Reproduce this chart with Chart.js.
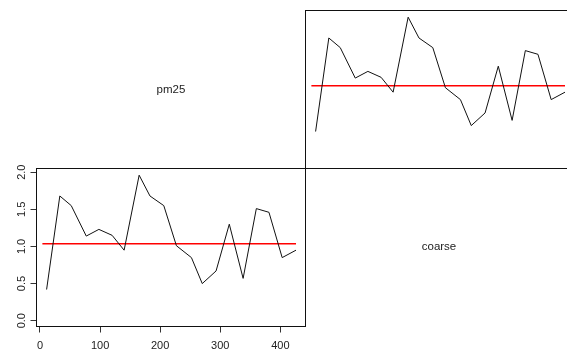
<!DOCTYPE html>
<html>
<head>
<meta charset="utf-8">
<script src="https://cdn.jsdelivr.net/npm/chart.js@4"></script>
<style>
  html, body { margin: 0; padding: 0; background: #fff; width: 567px; height: 353px; overflow: hidden; }
  canvas { position: absolute; left: 0; top: 0; }
</style>
</head>
<body>
<canvas id="lower" width="567" height="353"></canvas>
<canvas id="upper" width="600" height="353"></canvas>
<script>
// Sampling positions and pm25 readings
const dayIndex = [11, 33, 52, 77, 98, 120, 140, 165, 183, 206, 227, 252, 270, 293, 315, 338, 360, 381, 403, 426];
const pm25     = [0.42, 1.68, 1.55, 1.14, 1.23, 1.15, 0.95, 1.96, 1.68, 1.55, 1.01, 0.85, 0.50, 0.67, 1.30, 0.57, 1.51, 1.46, 0.85, 0.95];

// Horizontal reference level and its extent
const refSpan  = [4, 426];
const refLevel = 1.035;

// Axis ticks
const xTicks = [0, 100, 200, 300, 400];
const yTicks = [0, 0.5, 1.0, 1.5, 2.0];

// Variable names shown in the diagonal cells
const panelNames = ['pm25', 'coarse'];

const FONT = '"Liberation Sans", Arial, sans-serif';
const REF_COLOR = 'rgb(255, 0, 0)';

// Frame around each plotting region
const boxPlugin = {
  id: 'panelBox',
  afterDraw(chart) {
    const { ctx, chartArea: a } = chart;
    ctx.save();
    ctx.strokeStyle = '#111';
    ctx.lineWidth = 1;
    ctx.strokeRect(a.left, a.top, a.right - a.left, a.bottom - a.top);
    ctx.restore();
  }
};

// Diagonal cell captions
const namesPlugin = {
  id: 'panelNames',
  afterDraw(chart) {
    const ctx = chart.ctx;
    ctx.save();
    ctx.fillStyle = '#222';
    ctx.font = '11.5px ' + FONT;
    ctx.textAlign = 'center';
    ctx.textBaseline = 'middle';
    ctx.fillText(panelNames[0], 171, 90);
    ctx.fillText(panelNames[1], 439, 247);
    ctx.restore();
  }
};

function makePanel(canvas, padding, showAxes, extraPlugins) {
  const xScale = {
    type: 'linear',
    min: -5.8,
    max: 441.8,
    display: showAxes,
    afterBuildTicks: s => { s.ticks = xTicks.map(v => ({ value: v })); },
    grid: { drawOnChartArea: false, drawTicks: true, tickLength: 6, color: '#333' },
    border: { display: false },
    ticks: {
      padding: 7, color: '#222', maxRotation: 0, autoSkip: false,
      font: { size: 11, family: FONT },
      callback: v => String(v)
    }
  };
  const yScale = {
    type: 'linear',
    min: -0.078,
    max: 2.05,
    display: showAxes,
    afterBuildTicks: s => { s.ticks = yTicks.map(v => ({ value: v })); },
    grid: { drawOnChartArea: false, drawTicks: true, tickLength: 6, color: '#333' },
    border: { display: false },
    ticks: {
      padding: 1, color: '#222', minRotation: 90, maxRotation: 90,
      crossAlign: 'center', autoSkip: false,
      font: { size: 11, family: FONT },
      callback: v => Number(v).toFixed(1)
    }
  };
  if (showAxes) {
    xScale.afterFit = s => { s.height = 26.5; };
    yScale.afterFit = s => { s.width = 36.5; };
  }
  return new Chart(canvas, {
    type: 'line',
    data: {
      datasets: [
        {
          data: refSpan.map(x => ({ x, y: refLevel })),
          borderColor: REF_COLOR,
          borderWidth: 1.5,
          pointRadius: 0,
          fill: false,
          order: 2
        },
        {
          data: dayIndex.map((x, i) => ({ x, y: pm25[i] })),
          borderColor: '#111',
          borderWidth: 1,
          pointRadius: 0,
          tension: 0,
          fill: false,
          order: 1
        }
      ]
    },
    options: {
      responsive: false,
      animation: false,
      events: [],
      layout: { padding },
      plugins: { legend: { display: false }, tooltip: { enabled: false } },
      scales: { x: xScale, y: yScale }
    },
    plugins: [boxPlugin].concat(extraPlugins)
  });
}

// Lower-left panel with axes
makePanel(document.getElementById('lower'),
  { left: 0, top: 168.5, right: 261.5, bottom: 0 }, true, [namesPlugin]);

// Upper-right panel, same series, no axes
makePanel(document.getElementById('upper'),
  { left: 305.5, top: 10.5, right: 25.5, bottom: 184.5 }, false, []);
</script>
</body>
</html>
